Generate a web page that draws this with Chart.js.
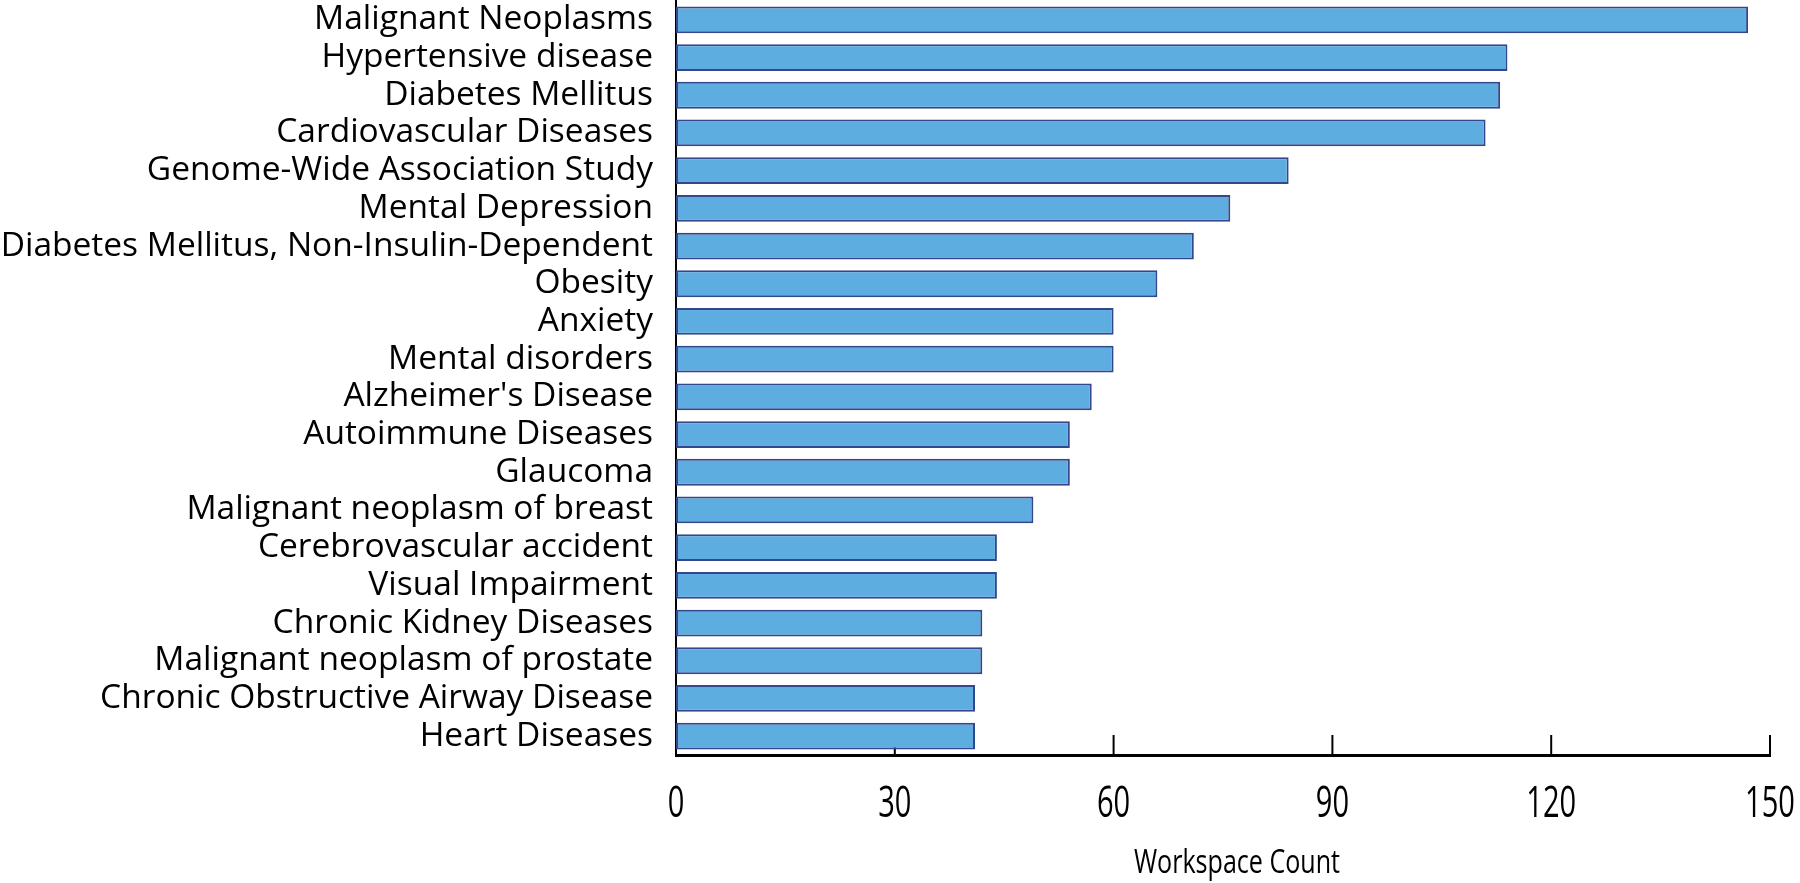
<!DOCTYPE html>
<html>
<head>
<meta charset="utf-8">
<script src="https://cdn.jsdelivr.net/npm/chart.js@4/dist/chart.umd.min.js"></script>
<style>
  html, body { margin: 0; padding: 0; background: #fff; }
  #wrap { width: 1800px; height: 883px; position: relative; }
</style>
</head>
<body>
<div id="wrap"><canvas id="chart"></canvas></div>
<script>
const categories = [
  'Malignant Neoplasms', 'Hypertensive disease', 'Diabetes Mellitus', 'Cardiovascular Diseases',
  'Genome-Wide Association Study', 'Mental Depression', 'Diabetes Mellitus, Non-Insulin-Dependent',
  'Obesity', 'Anxiety', 'Mental disorders', "Alzheimer's Disease", 'Autoimmune Diseases', 'Glaucoma',
  'Malignant neoplasm of breast', 'Cerebrovascular accident', 'Visual Impairment',
  'Chronic Kidney Diseases', 'Malignant neoplasm of prostate', 'Chronic Obstructive Airway Disease',
  'Heart Diseases',
];
const workspaceCounts = [147, 114, 113, 111, 84, 76, 71, 66, 60, 60, 57, 54, 54, 49, 44, 44, 42, 42, 41, 41];
const xTickValues = [0, 30, 60, 90, 120, 150];
const xTitle = 'Workspace Count';

// x tick labels and title are drawn narrow (condensed) like the source picture
const axisExtras = {
  id: 'axisExtras',
  beforeDatasetsDraw(chart) {
    const { ctx, chartArea, scales: { x } } = chart;
    ctx.save();
    ctx.strokeStyle = '#000';
    ctx.lineWidth = 2;
    x.ticks.forEach((t, i) => {
      if (t.value === 0) return;
      const px = x.getPixelForTick(i);
      ctx.beginPath();
      ctx.moveTo(px, chartArea.bottom);
      ctx.lineTo(px, chartArea.bottom - 20);
      ctx.stroke();
    });
    ctx.restore();
  },
  afterDraw(chart) {
    const { ctx, chartArea, scales: { x } } = chart;
    ctx.save();
    ctx.fillStyle = '#000';
    ctx.textAlign = 'center';
    ctx.textBaseline = 'alphabetic';
    const sx = 0.66;
    ctx.font = '44px "Open Sans"';
    ctx.scale(sx, 1);
    x.ticks.forEach((t, i) => {
      ctx.fillText(String(t.value), x.getPixelForTick(i) / sx, chartArea.bottom + 62);
    });
    ctx.restore();

    ctx.save();
    ctx.fillStyle = '#000';
    ctx.textAlign = 'center';
    ctx.textBaseline = 'alphabetic';
    const st = 0.76;
    ctx.font = '33px "Open Sans"';
    ctx.scale(st, 1);
    const cx = (chartArea.left + chartArea.right) / 2 + 14;
    ctx.fillText(xTitle, cx / st, chartArea.bottom + 118);
    ctx.restore();
  },
};

new Chart(document.getElementById('chart'), {
  type: 'bar',
  data: {
    labels: categories,
    datasets: [{
      label: xTitle,
      data: workspaceCounts,
      backgroundColor: '#5DADE0',
      borderColor: '#34468C',
      borderWidth: 2,
      borderSkipped: false,
      categoryPercentage: 1,
      barPercentage: 0.71,
    }],
  },
  options: {
    indexAxis: 'y',
    responsive: true,
    maintainAspectRatio: false,
    animation: false,
    layout: { padding: { top: 1, right: 30, left: 0, bottom: 0 } },
    plugins: { legend: { display: false }, tooltip: { enabled: false } },
    scales: {
      x: {
        type: 'linear',
        min: 0, max: 150,
        afterBuildTicks: s => { s.ticks = xTickValues.map(v => ({ value: v })); },
        grid: { display: false, drawTicks: false },
        border: { display: true, color: '#000', width: 3 },
        ticks: { display: false },
        afterFit: s => { s.height = 128; s.paddingLeft = 0; s.paddingRight = 0; },
      },
      y: {
        grid: { display: false, drawTicks: false },
        border: { display: true, color: '#000', width: 2 },
        ticks: { color: '#000', padding: 23, autoSkip: false, font: { family: 'Open Sans', size: 33.5 } },
        afterFit: s => { s.width = 676; s.paddingTop = 0; s.paddingBottom = 0; },
      },
    },
  },
  plugins: [axisExtras],
});
</script>
</body>
</html>
